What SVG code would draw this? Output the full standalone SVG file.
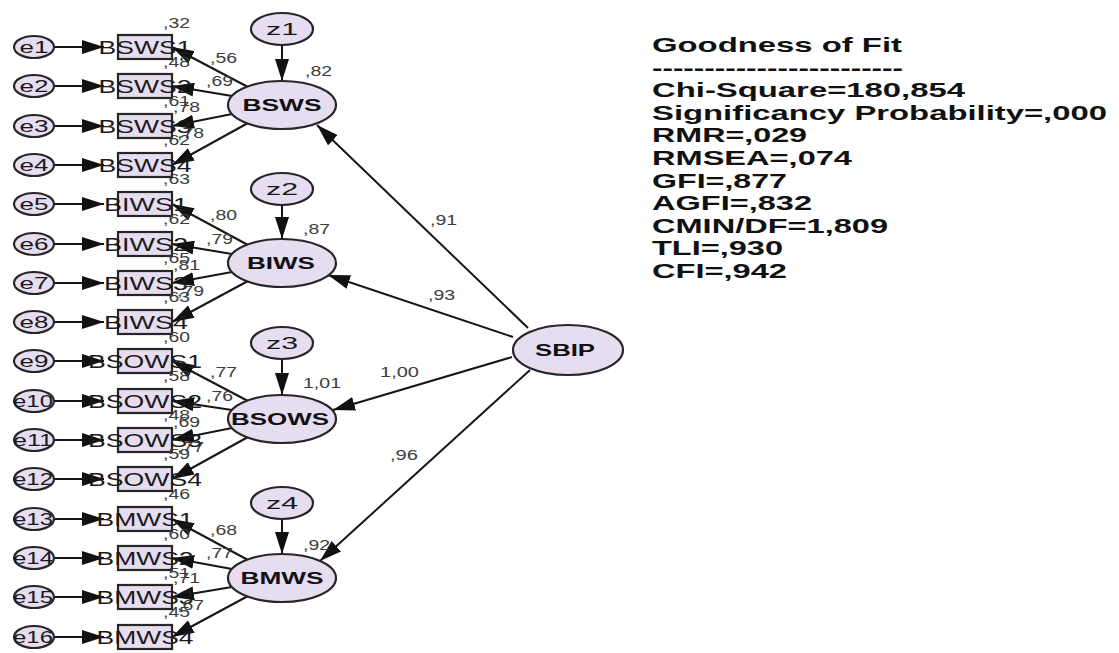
<svg xmlns="http://www.w3.org/2000/svg" width="1119" height="653" viewBox="0 0 1119 653">
<defs>
<style>
.n{fill:#E6DDF1;stroke:#262626;stroke-width:2.2}
.c{stroke:#161616;stroke-width:2;fill:none;marker-end:url(#ah)}
.bt{font-family:"Liberation Sans",Arial,sans-serif;font-size:19px;fill:#1a1a1a;text-anchor:middle}
.et{font-family:"Liberation Sans",Arial,sans-serif;font-size:17px;fill:#1a1a1a;text-anchor:middle}
.lt{font-family:"Liberation Sans",Arial,sans-serif;font-size:17px;font-weight:bold;fill:#111;text-anchor:middle}
.sm{font-family:"Liberation Sans",Arial,sans-serif;font-size:14px;fill:#3c3c3c}
.fit{font-family:"Liberation Sans",Arial,sans-serif;font-size:21px;font-weight:bold;fill:#111}
</style>
<marker id="ah" viewBox="0 0 22 14" refX="22" refY="7" markerWidth="22" markerHeight="14" markerUnits="userSpaceOnUse" orient="auto">
<path d="M0,0 L22,7 L0,14 z" fill="#111"/>
</marker>
</defs>
<rect width="1119" height="653" fill="#ffffff"/>

<g id="connectors">
<path class="c" d="M54,47 L104,47"/>
<path class="c" d="M54,86 L104,86"/>
<path class="c" d="M54,126 L104,126"/>
<path class="c" d="M54,165 L104,165"/>
<path class="c" d="M54,204 L104,204"/>
<path class="c" d="M54,244 L104,244"/>
<path class="c" d="M54,283 L104,283"/>
<path class="c" d="M54,322 L104,322"/>
<path class="c" d="M54,361 L104,361"/>
<path class="c" d="M54,401 L104,401"/>
<path class="c" d="M54,440 L104,440"/>
<path class="c" d="M54,479 L104,479"/>
<path class="c" d="M54,519 L104,519"/>
<path class="c" d="M54,558 L104,558"/>
<path class="c" d="M54,597 L104,597"/>
<path class="c" d="M54,637 L104,637"/>

<path class="c" d="M248,87 L172,47"/>
<path class="c" d="M232,96 L172,86"/>
<path class="c" d="M232,114 L172,126"/>
<path class="c" d="M248,123 L172,165"/>
<path class="c" d="M248,245 L172,204"/>
<path class="c" d="M232,254 L172,244"/>
<path class="c" d="M232,272 L172,283"/>
<path class="c" d="M248,281 L172,322"/>
<path class="c" d="M248,401 L172,361"/>
<path class="c" d="M232,410 L172,401"/>
<path class="c" d="M232,428 L172,440"/>
<path class="c" d="M248,437 L172,479"/>
<path class="c" d="M248,560 L172,519"/>
<path class="c" d="M232,569 L172,558"/>
<path class="c" d="M232,587 L172,597"/>
<path class="c" d="M248,596 L172,637"/>

<path class="c" d="M282,45 L282,81"/>
<path class="c" d="M282,205 L282,239"/>
<path class="c" d="M282,359 L282,395"/>
<path class="c" d="M282,519 L282,554"/>

<path class="c" d="M528,328 L317,125"/>
<path class="c" d="M513,337 L328,275"/>
<path class="c" d="M512,357 L333,410"/>
<path class="c" d="M530,370 L320,561"/>
</g>

<g id="e1"><ellipse class="n" cx="34" cy="47" rx="20" ry="11"/><text class="et" x="34" y="53" textLength="29" lengthAdjust="spacingAndGlyphs">e1</text></g>
<g id="e2"><ellipse class="n" cx="34" cy="86" rx="20" ry="11"/><text class="et" x="34" y="92" textLength="29" lengthAdjust="spacingAndGlyphs">e2</text></g>
<g id="e3"><ellipse class="n" cx="34" cy="126" rx="20" ry="11"/><text class="et" x="34" y="132" textLength="29" lengthAdjust="spacingAndGlyphs">e3</text></g>
<g id="e4"><ellipse class="n" cx="34" cy="165" rx="20" ry="11"/><text class="et" x="34" y="171" textLength="29" lengthAdjust="spacingAndGlyphs">e4</text></g>
<g id="e5"><ellipse class="n" cx="34" cy="204" rx="20" ry="11"/><text class="et" x="34" y="210" textLength="29" lengthAdjust="spacingAndGlyphs">e5</text></g>
<g id="e6"><ellipse class="n" cx="34" cy="244" rx="20" ry="11"/><text class="et" x="34" y="250" textLength="29" lengthAdjust="spacingAndGlyphs">e6</text></g>
<g id="e7"><ellipse class="n" cx="34" cy="283" rx="20" ry="11"/><text class="et" x="34" y="289" textLength="29" lengthAdjust="spacingAndGlyphs">e7</text></g>
<g id="e8"><ellipse class="n" cx="34" cy="322" rx="20" ry="11"/><text class="et" x="34" y="328" textLength="29" lengthAdjust="spacingAndGlyphs">e8</text></g>
<g id="e9"><ellipse class="n" cx="34" cy="361" rx="20" ry="11"/><text class="et" x="34" y="367" textLength="29" lengthAdjust="spacingAndGlyphs">e9</text></g>
<g id="e10"><ellipse class="n" cx="34" cy="401" rx="20" ry="11"/><text class="et" x="33" y="407" textLength="40" lengthAdjust="spacingAndGlyphs">e10</text></g>
<g id="e11"><ellipse class="n" cx="34" cy="440" rx="20" ry="11"/><text class="et" x="33" y="446" textLength="40" lengthAdjust="spacingAndGlyphs">e11</text></g>
<g id="e12"><ellipse class="n" cx="34" cy="479" rx="20" ry="11"/><text class="et" x="33" y="485" textLength="40" lengthAdjust="spacingAndGlyphs">e12</text></g>
<g id="e13"><ellipse class="n" cx="34" cy="519" rx="20" ry="11"/><text class="et" x="33" y="525" textLength="40" lengthAdjust="spacingAndGlyphs">e13</text></g>
<g id="e14"><ellipse class="n" cx="34" cy="558" rx="20" ry="11"/><text class="et" x="33" y="564" textLength="40" lengthAdjust="spacingAndGlyphs">e14</text></g>
<g id="e15"><ellipse class="n" cx="34" cy="597" rx="20" ry="11"/><text class="et" x="33" y="603" textLength="40" lengthAdjust="spacingAndGlyphs">e15</text></g>
<g id="e16"><ellipse class="n" cx="34" cy="637" rx="20" ry="11"/><text class="et" x="33" y="643" textLength="40" lengthAdjust="spacingAndGlyphs">e16</text></g>

<g id="BSWS1"><rect class="n" x="118" y="35" width="54" height="24"/><text class="bt" x="145" y="54" textLength="93" lengthAdjust="spacingAndGlyphs">BSWS1</text></g>
<g id="BSWS2"><rect class="n" x="118" y="74" width="54" height="24"/><text class="bt" x="145" y="93" textLength="93" lengthAdjust="spacingAndGlyphs">BSWS2</text></g>
<g id="BSWS3"><rect class="n" x="118" y="114" width="54" height="24"/><text class="bt" x="145" y="133" textLength="93" lengthAdjust="spacingAndGlyphs">BSWS3</text></g>
<g id="BSWS4"><rect class="n" x="118" y="153" width="54" height="24"/><text class="bt" x="145" y="172" textLength="93" lengthAdjust="spacingAndGlyphs">BSWS4</text></g>
<g id="BIWS1"><rect class="n" x="118" y="192" width="54" height="24"/><text class="bt" x="146" y="211" textLength="84" lengthAdjust="spacingAndGlyphs">BIWS1</text></g>
<g id="BIWS2"><rect class="n" x="118" y="232" width="54" height="24"/><text class="bt" x="146" y="251" textLength="84" lengthAdjust="spacingAndGlyphs">BIWS2</text></g>
<g id="BIWS3"><rect class="n" x="118" y="271" width="54" height="24"/><text class="bt" x="146" y="290" textLength="84" lengthAdjust="spacingAndGlyphs">BIWS3</text></g>
<g id="BIWS4"><rect class="n" x="118" y="310" width="54" height="24"/><text class="bt" x="146" y="329" textLength="84" lengthAdjust="spacingAndGlyphs">BIWS4</text></g>
<g id="BSOWS1"><rect class="n" x="118" y="349" width="54" height="24"/><text class="bt" x="145" y="368" textLength="114" lengthAdjust="spacingAndGlyphs">BSOWS1</text></g>
<g id="BSOWS2"><rect class="n" x="118" y="389" width="54" height="24"/><text class="bt" x="145" y="408" textLength="114" lengthAdjust="spacingAndGlyphs">BSOWS2</text></g>
<g id="BSOWS3"><rect class="n" x="118" y="428" width="54" height="24"/><text class="bt" x="145" y="447" textLength="114" lengthAdjust="spacingAndGlyphs">BSOWS3</text></g>
<g id="BSOWS4"><rect class="n" x="118" y="467" width="54" height="24"/><text class="bt" x="145" y="486" textLength="114" lengthAdjust="spacingAndGlyphs">BSOWS4</text></g>
<g id="BMWS1"><rect class="n" x="118" y="507" width="54" height="24"/><text class="bt" x="145" y="526" textLength="97" lengthAdjust="spacingAndGlyphs">BMWS1</text></g>
<g id="BMWS2"><rect class="n" x="118" y="546" width="54" height="24"/><text class="bt" x="145" y="565" textLength="97" lengthAdjust="spacingAndGlyphs">BMWS2</text></g>
<g id="BMWS3"><rect class="n" x="118" y="585" width="54" height="24"/><text class="bt" x="145" y="604" textLength="97" lengthAdjust="spacingAndGlyphs">BMWS3</text></g>
<g id="BMWS4"><rect class="n" x="118" y="625" width="54" height="24"/><text class="bt" x="145" y="644" textLength="97" lengthAdjust="spacingAndGlyphs">BMWS4</text></g>

<g id="z1"><ellipse class="n" cx="282" cy="29" rx="31" ry="16"/><text class="et" x="282" y="35" textLength="32" lengthAdjust="spacingAndGlyphs">z1</text></g>
<g id="z2"><ellipse class="n" cx="282" cy="189" rx="31" ry="16"/><text class="et" x="282" y="195" textLength="32" lengthAdjust="spacingAndGlyphs">z2</text></g>
<g id="z3"><ellipse class="n" cx="282" cy="343" rx="31" ry="16"/><text class="et" x="282" y="349" textLength="32" lengthAdjust="spacingAndGlyphs">z3</text></g>
<g id="z4"><ellipse class="n" cx="282" cy="503" rx="31" ry="16"/><text class="et" x="282" y="509" textLength="32" lengthAdjust="spacingAndGlyphs">z4</text></g>

<g id="BSWS"><ellipse class="n" cx="282" cy="105" rx="54" ry="24"/><text class="lt" x="282" y="111" textLength="79" lengthAdjust="spacingAndGlyphs">BSWS</text></g>
<g id="BIWS"><ellipse class="n" cx="282" cy="263" rx="54" ry="24"/><text class="lt" x="281" y="269" textLength="68" lengthAdjust="spacingAndGlyphs">BIWS</text></g>
<g id="BSOWS"><ellipse class="n" cx="282" cy="419" rx="54" ry="24"/><text class="lt" x="280" y="425" textLength="98" lengthAdjust="spacingAndGlyphs">BSOWS</text></g>
<g id="BMWS"><ellipse class="n" cx="282" cy="578" rx="54" ry="24"/><text class="lt" x="282" y="584" textLength="83" lengthAdjust="spacingAndGlyphs">BMWS</text></g>
<g id="SBIP"><ellipse class="n" cx="568" cy="350" rx="55" ry="25"/><text class="lt" x="565" y="356" textLength="60" lengthAdjust="spacingAndGlyphs">SBIP</text></g>

<g id="labels" class="sm">
<text x="163" y="28" textLength="27" lengthAdjust="spacingAndGlyphs">,32</text>
<text x="163" y="67" textLength="27" lengthAdjust="spacingAndGlyphs">,48</text>
<text x="163" y="106" textLength="27" lengthAdjust="spacingAndGlyphs">,61</text>
<text x="163" y="145" textLength="27" lengthAdjust="spacingAndGlyphs">,62</text>
<text x="210" y="63" textLength="27" lengthAdjust="spacingAndGlyphs">,56</text>
<text x="206" y="86" textLength="27" lengthAdjust="spacingAndGlyphs">,69</text>
<text x="173" y="112" textLength="27" lengthAdjust="spacingAndGlyphs">,78</text>
<text x="177" y="138" textLength="27" lengthAdjust="spacingAndGlyphs">,78</text>
<text x="305" y="76" textLength="27" lengthAdjust="spacingAndGlyphs">,82</text>

<text x="163" y="184" textLength="27" lengthAdjust="spacingAndGlyphs">,63</text>
<text x="163" y="224" textLength="27" lengthAdjust="spacingAndGlyphs">,62</text>
<text x="163" y="263" textLength="27" lengthAdjust="spacingAndGlyphs">,65</text>
<text x="163" y="302" textLength="27" lengthAdjust="spacingAndGlyphs">,63</text>
<text x="210" y="220" textLength="27" lengthAdjust="spacingAndGlyphs">,80</text>
<text x="206" y="244" textLength="27" lengthAdjust="spacingAndGlyphs">,79</text>
<text x="173" y="270" textLength="27" lengthAdjust="spacingAndGlyphs">,81</text>
<text x="177" y="296" textLength="27" lengthAdjust="spacingAndGlyphs">,79</text>
<text x="303" y="234" textLength="27" lengthAdjust="spacingAndGlyphs">,87</text>

<text x="163" y="342" textLength="27" lengthAdjust="spacingAndGlyphs">,60</text>
<text x="163" y="381" textLength="27" lengthAdjust="spacingAndGlyphs">,58</text>
<text x="163" y="420" textLength="27" lengthAdjust="spacingAndGlyphs">,48</text>
<text x="163" y="459" textLength="27" lengthAdjust="spacingAndGlyphs">,59</text>
<text x="210" y="377" textLength="27" lengthAdjust="spacingAndGlyphs">,77</text>
<text x="206" y="401" textLength="27" lengthAdjust="spacingAndGlyphs">,76</text>
<text x="173" y="427" textLength="27" lengthAdjust="spacingAndGlyphs">,69</text>
<text x="177" y="452" textLength="27" lengthAdjust="spacingAndGlyphs">,77</text>
<text x="303" y="388" textLength="38" lengthAdjust="spacingAndGlyphs">1,01</text>

<text x="163" y="499" textLength="27" lengthAdjust="spacingAndGlyphs">,46</text>
<text x="163" y="539" textLength="27" lengthAdjust="spacingAndGlyphs">,60</text>
<text x="163" y="578" textLength="27" lengthAdjust="spacingAndGlyphs">,51</text>
<text x="163" y="617" textLength="27" lengthAdjust="spacingAndGlyphs">,45</text>
<text x="210" y="535" textLength="27" lengthAdjust="spacingAndGlyphs">,68</text>
<text x="206" y="558" textLength="27" lengthAdjust="spacingAndGlyphs">,77</text>
<text x="173" y="583" textLength="27" lengthAdjust="spacingAndGlyphs">,71</text>
<text x="177" y="610" textLength="27" lengthAdjust="spacingAndGlyphs">,67</text>
<text x="303" y="550" textLength="27" lengthAdjust="spacingAndGlyphs">,92</text>

<text x="430" y="225" textLength="27" lengthAdjust="spacingAndGlyphs">,91</text>
<text x="428" y="300" textLength="27" lengthAdjust="spacingAndGlyphs">,93</text>
<text x="380" y="377" textLength="39" lengthAdjust="spacingAndGlyphs">1,00</text>
<text x="390" y="460" textLength="28" lengthAdjust="spacingAndGlyphs">,96</text>
</g>

<g id="fit" class="fit">
<text x="652" y="52" textLength="250" lengthAdjust="spacingAndGlyphs">Goodness of Fit</text>
<text x="652" y="74.6" textLength="251" lengthAdjust="spacingAndGlyphs">------------------------</text>
<text x="652" y="97.2" textLength="313" lengthAdjust="spacingAndGlyphs">Chi-Square=180,854</text>
<text x="652" y="119.8" textLength="455" lengthAdjust="spacingAndGlyphs">Significancy Probability=,000</text>
<text x="652" y="142.4" textLength="155" lengthAdjust="spacingAndGlyphs">RMR=,029</text>
<text x="652" y="165" textLength="200" lengthAdjust="spacingAndGlyphs">RMSEA=,074</text>
<text x="652" y="187.6" textLength="135" lengthAdjust="spacingAndGlyphs">GFI=,877</text>
<text x="652" y="210.2" textLength="160" lengthAdjust="spacingAndGlyphs">AGFI=,832</text>
<text x="652" y="232.8" textLength="236" lengthAdjust="spacingAndGlyphs">CMIN/DF=1,809</text>
<text x="652" y="255.4" textLength="131" lengthAdjust="spacingAndGlyphs">TLI=,930</text>
<text x="652" y="278" textLength="135" lengthAdjust="spacingAndGlyphs">CFI=,942</text>
</g>
</svg>
